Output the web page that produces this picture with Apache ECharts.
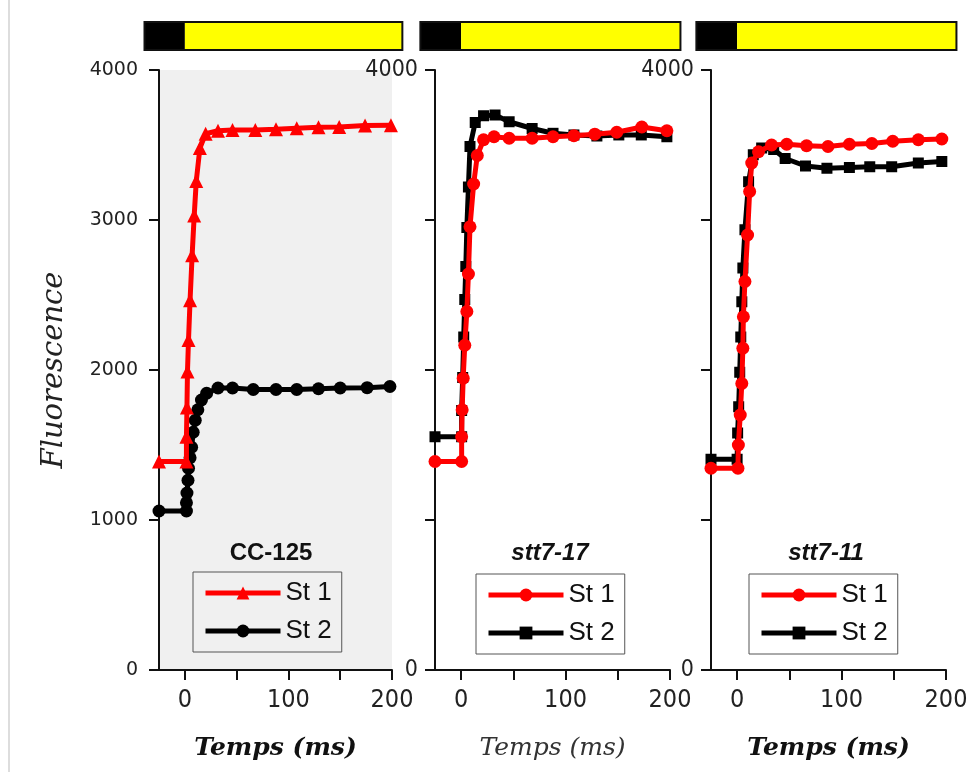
<!DOCTYPE html>
<html><head><meta charset="utf-8">
<script src="https://cdn.jsdelivr.net/npm/echarts@6/dist/echarts.min.js"></script>
<style>html,body{margin:0;padding:0;background:#fff}#c{width:971px;height:772px}</style>
</head><body><div id="c"></div>
<script>
// ---- data ----
const panelNames = ['CC-125', 'stt7-17', 'stt7-11'];
const xTicks = [0, 50, 100, 150, 200];
const xTickLabels = [0, 100, 200];
const yLabelsFirst = [0, 1000, 2000, 3000, 4000];
const yLabelsOther = [0, 4000];
const lightBar = [-39, 0, 210]; // dark start, light on, light end (ms)

const cc125_st1_x = [-25, 1.5, 1.5, 2, 2.5, 3.5, 5, 7, 9, 11, 14.5, 20, 32, 46, 68, 88, 108, 129, 149, 174, 199];
const cc125_st1_y = [1390, 1390, 1555, 1750, 1990, 2200, 2465, 2765, 3030, 3260, 3480, 3575, 3595, 3600, 3600, 3605, 3612, 3618, 3620, 3630, 3632];
const cc125_st2_x = [-25, 1.5, 1.5, 2, 3, 3.5, 5, 6.5, 8, 10, 12.5, 16, 21, 32, 46, 66, 88, 108, 129, 150, 176, 198];
const cc125_st2_y = [1060, 1060, 1115, 1180, 1265, 1345, 1415, 1485, 1585, 1665, 1735, 1800, 1845, 1880, 1880, 1870, 1870, 1870, 1875, 1880, 1882, 1890];

const s17_st1_x = [-25, 0.5, 0.5, 1, 2, 3.5, 5.5, 7, 8.5, 12, 15.5, 21.5, 31.5, 46, 68, 88, 108, 128, 149, 173, 197];
const s17_st1_y = [1390, 1390, 1555, 1735, 1945, 2165, 2390, 2640, 2955, 3240, 3430, 3535, 3555, 3545, 3545, 3555, 3562, 3572, 3585, 3620, 3595];
const s17_st2_x = [-25, 0.5, 0.5, 1.5, 2.5, 3.5, 4.5, 5.5, 7, 8.5, 13.5, 21.5, 32.5, 46, 68, 88, 108, 130, 151, 172.5, 197];
const s17_st2_y = [1555, 1555, 1730, 1950, 2220, 2470, 2690, 2950, 3220, 3490, 3650, 3695, 3700, 3655, 3610, 3578, 3567, 3560, 3567, 3567, 3555];

const s11_st1_x = [-25, 0.8, 1.2, 3, 4.5, 5.5, 6, 7.5, 10, 12, 14, 20.5, 33, 47.5, 66.5, 87, 107.5, 129, 149, 173.5, 196];
const s11_st1_y = [1345, 1345, 1500, 1700, 1910, 2145, 2355, 2590, 2900, 3190, 3380, 3455, 3500, 3505, 3495, 3490, 3505, 3510, 3525, 3535, 3540];
const s11_st2_x = [-25, 0, 0.5, 1.5, 2.5, 3.5, 4.5, 5.5, 7.5, 11, 15.5, 23.5, 35, 46, 65.5, 86, 107.5, 127, 148, 173.5, 196];
const s11_st2_y = [1405, 1405, 1580, 1755, 1985, 2220, 2455, 2680, 2935, 3255, 3435, 3480, 3470, 3410, 3360, 3345, 3350, 3355, 3355, 3380, 3390];

// ---- build ----
const zip = (xs, ys) => xs.map((x, i) => [x, ys[i]]);
const panels = [
  { st1: zip(cc125_st1_x, cc125_st1_y), st2: zip(cc125_st2_x, cc125_st2_y), sym1: 'triangle', sym2: 'circle', s1: 14, s2: 13 },
  { st1: zip(s17_st1_x, s17_st1_y), st2: zip(s17_st2_x, s17_st2_y), sym1: 'circle', sym2: 'rect', s1: 13, s2: 11 },
  { st1: zip(s11_st1_x, s11_st1_y), st2: zip(s11_st2_x, s11_st2_y), sym1: 'circle', sym2: 'rect', s1: 13, s2: 11 }
];
const gridPos = [
  { left: 159, width: 233 },
  { left: 435, width: 235 },
  { left: 711, width: 235 }
];
const legendPos = [{ left: 193, top: 572 }, { left: 476, top: 574 }, { left: 749, top: 574 }];
const titleX = [266, 545, 821];

const narrowFont = "'Liberation Sans Narrow', 'DejaVu Sans Condensed', 'Liberation Sans', sans-serif";
const plain = v => String(v);
const grid = [], xAxis = [], yAxis = [], series = [], legend = [], title = [];

panels.forEach((p, i) => {
  grid.push({
    left: gridPos[i].left, width: gridPos[i].width, top: 70, height: 600,
    show: i === 0, backgroundColor: '#f0f0f0', borderWidth: 0
  });
  xAxis.push({
    type: 'value', gridIndex: i, min: -25, max: 200,
    name: 'Temps (ms)', nameLocation: 'middle', nameGap: 66,
    nameTextStyle: { fontFamily: 'DejaVu Serif', fontStyle: 'italic', fontWeight: i === 1 ? 'normal' : 'bold', fontSize: 25, color: i === 1 ? '#333' : '#111' },
    axisLine: { onZero: false, lineStyle: { color: '#111', width: 2 } },
    axisTick: { customValues: xTicks, length: 10, lineStyle: { color: '#111', width: 2 } },
    axisLabel: { customValues: xTickLabels, formatter: plain, margin: 18, fontFamily: narrowFont, fontSize: 25, color: '#222' },
    splitLine: { show: false }
  });
  yAxis.push({
    type: 'value', gridIndex: i, min: 0, max: 4000, interval: 1000,
    name: i === 0 ? 'Fluorescence' : '', nameLocation: 'middle', nameGap: 90, nameRotate: 90,
    nameTextStyle: { fontFamily: 'DejaVu Serif', fontStyle: 'italic', fontSize: 29, color: '#222' },
    axisLine: { show: true, onZero: false, lineStyle: { color: '#111', width: 2 } },
    axisTick: { show: true, length: 10, lineStyle: { color: '#111', width: 2 } },
    axisLabel: i === 0
      ? { customValues: yLabelsFirst, formatter: plain, margin: 21, fontFamily: 'DejaVu Sans', fontSize: 19, color: '#222' }
      : { customValues: yLabelsOther, formatter: plain, margin: 17, fontFamily: narrowFont, fontSize: 23, color: '#222' },
    splitLine: { show: false }
  });
  series.push({
    type: 'custom', xAxisIndex: i, yAxisIndex: i, clip: false, silent: true,
    data: [lightBar], encode: { x: [0, 1, 2] },
    renderItem: (params, api) => {
      const a = api.coord([api.value(0), 4000]);
      const b = api.coord([api.value(1), 4000]);
      const c = api.coord([api.value(2), 4000]);
      const top = a[1] - 48, h = 28;
      return { type: 'group', children: [
        { type: 'rect', shape: { x: a[0], y: top, width: b[0] - a[0], height: h }, style: { fill: '#000' } },
        { type: 'rect', shape: { x: b[0], y: top, width: c[0] - b[0], height: h }, style: { fill: '#ffff00' } },
        { type: 'rect', shape: { x: a[0], y: top, width: c[0] - a[0], height: h }, style: { fill: 'none', stroke: '#111', lineWidth: 2 } }
      ] };
    }
  });
  series.push({
    type: 'line', name: 'p' + i + '_2', xAxisIndex: i, yAxisIndex: i, data: p.st2,
    symbol: p.sym2, symbolSize: p.s2, showAllSymbol: true, z: 3,
    lineStyle: { color: '#000', width: 5 }, itemStyle: { color: '#000' }
  });
  series.push({
    type: 'line', name: 'p' + i + '_1', xAxisIndex: i, yAxisIndex: i, data: p.st1,
    symbol: p.sym1, symbolSize: p.s1, showAllSymbol: true, z: 4,
    lineStyle: { color: '#ff0000', width: 5 }, itemStyle: { color: '#ff0000' }
  });
  legend.push({
    data: ['p' + i + '_1', 'p' + i + '_2'], orient: 'vertical',
    left: legendPos[i].left, top: legendPos[i].top,
    formatter: n => (n.endsWith('_1') ? 'St 1' : 'St 2'),
    itemWidth: 75, itemHeight: 16, itemGap: 12,
    padding: [8, 10, 8, 10], borderColor: '#555', borderWidth: 1,
    lineStyle: { width: 5 },
    textStyle: { fontFamily: 'Liberation Sans', fontSize: 26, color: '#111' },
    selectedMode: false
  });
  title.push({
    text: panelNames[i], left: titleX[i], top: 536, textAlign: 'center',
    textStyle: { fontFamily: 'Liberation Sans', fontSize: 24, fontWeight: 'bold', fontStyle: i === 0 ? 'normal' : 'italic', color: '#111' }
  });
});

const chart = echarts.init(document.getElementById('c'), null, { renderer: 'canvas' });
chart.setOption({
  animation: false,
  backgroundColor: '#fff',
  title, grid, xAxis, yAxis, series, legend,
  graphic: [{ type: 'line', shape: { x1: 9, y1: 0, x2: 9, y2: 772 }, style: { stroke: '#dddddd', lineWidth: 2 }, silent: true }]
});
</script></body></html>
